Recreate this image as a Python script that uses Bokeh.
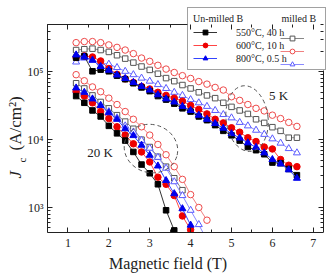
import math
from bokeh.plotting import figure
from bokeh.models import (LinearAxis, LogAxis, LogScale, FixedTicker, Range1d, Legend,
                          LegendItem, Label, CustomJSTickFormatter)
from bokeh.embed import file_html
from bokeh.resources import INLINE

# ---------------- data ----------------
FIELD = [1.2, 1.4, 1.6, 1.8, 2.0, 2.2, 2.4, 2.6, 2.8, 3.0, 3.2, 3.4, 3.6, 3.8,
         4.0, 4.2, 4.4, 4.6, 4.8, 5.0, 5.2, 5.4, 5.6, 5.8, 6.0, 6.2, 6.4, 6.6]

# 5 K, un-milled B (filled symbols)
u550_5K = [1.62e5, 1.70e5, 1.02e5, 1.08e5, 1.02e5, 8.8e4, 7.8e4, 6.8e4, 5.9e4, 5.2e4,
           4.4e4, 3.9e4, 3.4e4, 2.9e4, 2.6e4, 2.2e4, 1.94e4, 1.64e4, 1.35e4, 1.16e4,
           9.7e3, 7.8e3, 7.0e3, 6.1e3, 4.6e3, 4.5e3, 3.7e3, 3.0e3]
u600_5K = [1.63e5, 1.72e5, 1.66e5, 1.45e5, 1.12e5, 9.2e4, 7.9e4, 7.0e4, 6.1e4, 5.6e4,
           5.0e4, 4.5e4, 4.1e4, 3.7e4, 3.2e4, 2.8e4, 2.4e4, 2.0e4, 1.77e4, 1.5e4,
           1.29e4, 1.07e4, 9.4e3, 7.8e3, 7.3e3, 5.1e3, 4.2e3, 4.0e3]
u800_5K = [1.78e5, 1.66e5, 1.49e5, 1.20e5, 1.06e5, 9.0e4, 8.0e4, 7.0e4, 6.1e4, 5.4e4,
           4.6e4, 4.0e4, 3.6e4, 3.1e4, 2.7e4, 2.3e4, 2.0e4, 1.73e4, 1.48e4, 1.23e4,
           1.06e4, 9.0e3, 7.7e3, 6.4e3, 5.1e3, 4.4e3, 3.6e3, 2.7e3]
# 5 K, milled B (open symbols)
m550_5K = [2.1e5, 2.16e5, 2.2e5, 2.1e5, 1.97e5, 1.76e5, 1.57e5, 1.37e5, 1.2e5, 1.07e5,
           9.4e4, 8.1e4, 7.3e4, 6.4e4, 5.7e4, 5.0e4, 4.5e4, 4.1e4, 3.5e4, 3.05e4,
           2.7e4, 2.4e4, 2.0e4, 1.77e4, 1.53e4, 1.35e4, 1.07e4, 1.07e4]
m600_5K = [2.7e5, 2.8e5, 2.8e5, 2.7e5, 2.5e5, 2.3e5, 2.1e5, 1.86e5, 1.6e5, 1.43e5,
           1.25e5, 1.1e5, 9.8e4, 8.8e4, 8.0e4, 7.2e4, 6.6e4, 5.9e4, 5.4e4, 4.3e4,
           3.8e4, 3.3e4, 2.9e4, 2.66e4, 2.3e4, 2.05e4, 1.8e4, 1.57e4]
m800_5K = [1.4e5, 1.6e5, 1.49e5, 1.36e5, 1.3e5, 1.16e5, 1.02e5, 9.1e4, 8.1e4, 7.3e4,
           6.5e4, 5.7e4, 5.0e4, 4.5e4, 3.9e4, 3.5e4, 3.1e4, 2.7e4, 2.35e4, 2.1e4,
           1.8e4, 1.6e4, 1.38e4, 1.2e4, 1.03e4, 8.9e3, 7.4e3, 6.4e3]

# 20 K
F_u550_20K = [1.2, 1.4, 1.6, 1.8, 2.0, 2.2, 2.4, 2.6, 2.8, 3.0, 3.2, 3.4, 3.6]
u550_20K = [4.4e4, 3.5e4, 2.7e4, 2.2e4, 1.6e4, 1.24e4, 9.7e3, 6.6e3, 4.3e3, 3.2e3,
            2.2e3, 910, 460]
F_u600_20K = [1.2, 1.4, 1.6, 1.8, 2.0, 2.2, 2.4, 2.6, 2.8, 3.0, 3.2, 3.4, 3.6, 3.8, 4.0]
u600_20K = [5.2e4, 4.4e4, 3.5e4, 2.6e4, 2.05e4, 1.55e4, 1.17e4, 8.7e3, 6.6e3, 4.7e3,
            2.8e3, 2.2e3, 1.5e3, 750, 470]
F_u800_20K = [1.2, 1.4, 1.6, 1.8, 2.0, 2.2, 2.4, 2.6, 2.8, 3.0, 3.2, 3.4, 3.6, 3.8, 4.0]
u800_20K = [5.8e4, 5.0e4, 4.0e4, 3.2e4, 2.5e4, 2.0e4, 1.45e4, 1.15e4, 8.3e3, 5.9e3,
            4.1e3, 2.5e3, 1.6e3, 960, 550]
F_m550_20K = [1.2, 1.4, 1.6, 1.8, 2.0, 2.2, 2.4, 2.6, 2.8, 3.0, 3.2, 3.4, 3.6, 3.8]
m550_20K = [6.8e4, 5.7e4, 4.5e4, 3.6e4, 2.9e4, 2.3e4, 1.85e4, 1.45e4, 1.0e4, 7.8e3,
            5.6e3, 4.0e3, 2.7e3, 1.8e3]
F_m600_20K = [1.2, 1.4, 1.6, 1.8, 2.0, 2.2, 2.4, 2.6, 2.8, 3.0, 3.2, 3.4, 3.6, 3.8,
              4.0, 4.2, 4.4]
m600_20K = [9.1e4, 7.4e4, 6.0e4, 5.1e4, 4.1e4, 3.3e4, 2.6e4, 2.0e4, 1.55e4, 1.17e4,
            8.5e3, 6.0e3, 4.0e3, 2.6e3, 1.55e3, 1.0e3, 650]
F_m800_20K = [1.2, 1.4, 1.6, 1.8, 2.0, 2.2, 2.4, 2.6, 2.8, 3.0, 3.2, 3.4, 3.6, 3.8,
              4.0, 4.2, 4.4]
m800_20K = [5.3e4, 4.7e4, 3.9e4, 3.2e4, 2.6e4, 2.1e4, 1.6e4, 1.3e4, 9.8e3, 7.5e3,
            5.5e3, 3.8e3, 2.4e3, 1.5e3, 910, 560, 330]

LEGEND_HEADERS = ["Un-milled B", "milled B"]
LEGEND_LABELS = ["550\u00b0C, 40 h", "600\u00b0C, 10 h", "800\u00b0C, 0.5 h"]
X_TICKS = [1, 2, 3, 4, 5, 6, 7]
Y_TICKS = [1e3, 1e4, 1e5]
Y_TICK_LABELS = {1000: "10\u00b3", 10000: "10\u2074", 100000: "10\u2075"}

SERIF = "Liberation Serif"

# ---------------- layout constants (pixels) ----------------
W, H = 335, 278
BOTTOM_BORDER = 46
FRAME_H = H - BOTTOM_BORDER          # plotting area reaches the top/left/right edges
BOX_L, BOX_R, BOX_T = 47, 323, 24    # visible axes box (pixels)
LEG_L, LEG_B = 187, 70               # legend box left edge / bottom edge (pixels)
X_MIN, X_MAX = 0.5, 7.25             # visible x range of the box
Y_MIN, Y_MAX = 428, 5.0e5            # visible y range of the box

px_per_x = (BOX_R - BOX_L) / (X_MAX - X_MIN)
x_lo = X_MIN - BOX_L / px_per_x
x_hi = X_MAX + (W - BOX_R) / px_per_x
px_per_dec = (FRAME_H - BOX_T) / (math.log10(Y_MAX) - math.log10(Y_MIN))
y_hi = 10 ** (math.log10(Y_MAX) + BOX_T / px_per_dec)
# parts of the top / right box edges that the legend box hides
x_leg = X_MIN + (LEG_L - BOX_L) / px_per_x
y_leg = 10 ** (math.log10(Y_MAX) - (LEG_B - BOX_T) / px_per_dec)

p = figure(width=W, height=H, y_axis_type=None, x_axis_type=None,
           x_range=Range1d(x_lo, x_hi), y_range=Range1d(Y_MIN, y_hi),
           output_backend="svg", toolbar_location=None,
           min_border_left=0, min_border_right=0, min_border_top=0,
           min_border_bottom=BOTTOM_BORDER)
p.y_scale = LogScale()
p.grid.visible = False
p.outline_line_color = None
p.background_fill_color = "white"
p.border_fill_color = "white"

x_minor = [0.5, 1.5, 2.5, 3.5, 4.5, 5.5, 6.5]
y_minor = [m * 10 ** e for e in (2, 3, 4, 5) for m in range(2, 10)
           if Y_MIN <= m * 10 ** e <= Y_MAX]
xt = FixedTicker(ticks=X_TICKS, minor_ticks=x_minor)
yt = FixedTicker(ticks=Y_TICKS, minor_ticks=y_minor)
blank = CustomJSTickFormatter(code="return ''")


def style_axis(ax, ticker):
    ax.ticker = ticker
    ax.major_tick_in = 5
    ax.major_tick_out = 0
    ax.minor_tick_in = 3
    ax.minor_tick_out = 0
    ax.axis_line_color = "#222222"
    ax.major_tick_line_color = "#222222"
    ax.minor_tick_line_color = "#222222"
    ax.major_label_text_font = SERIF
    ax.major_label_text_font_size = "12px"
    ax.major_label_text_color = "#222222"
    ax.major_label_standoff = 6


bottom = LinearAxis(bounds=(X_MIN, X_MAX))
style_axis(bottom, xt)
bottom.axis_label = "Magnetic field (T)"
bottom.axis_label_text_font = SERIF
bottom.axis_label_text_font_size = "16px"
bottom.axis_label_text_font_style = "normal"
bottom.axis_label_text_color = "#222222"
bottom.axis_label_standoff = 5
p.add_layout(bottom, "below")

left = LogAxis(bounds=(Y_MIN, Y_MAX), fixed_location=X_MIN)
style_axis(left, yt)
left.major_label_overrides = Y_TICK_LABELS
left.major_label_standoff = 4
p.add_layout(left, "left")

top = LinearAxis(bounds=(X_MIN, x_leg), fixed_location=Y_MAX, formatter=blank)
style_axis(top, xt)
p.add_layout(top, "above")

right = LogAxis(bounds=(Y_MIN, y_leg), fixed_location=X_MAX, formatter=blank)
style_axis(right, yt)
p.add_layout(right, "right")

# ---------------- series ----------------
BLACK_L, BLACK_M = "#333333", "#000000"
RED_L, RED_M = "#ff4444", "#ee0000"
BLUE_L, BLUE_M = "#3344ff", "#0000ee"
GRAY_L, GRAY_M = "#888888", "#555555"
PINK_L, PINK_M = "#f08080", "#ee4a4a"
LBLUE_L, LBLUE_M = "#8a8aff", "#5a5aff"


def series(xs, ys, lc, mc, marker, filled, size):
    ln = p.line(xs, ys, line_color=lc, line_width=1)
    sc = p.scatter(xs, ys, marker=marker, size=size, line_color=mc,
                   fill_color=mc if filled else "white", line_width=1)
    return ln, sc


# 5 K
a1 = series(FIELD, m600_5K, PINK_L, PINK_M, "circle", False, 6.5)
a2 = series(FIELD, m550_5K, GRAY_L, GRAY_M, "square", False, 5.5)
a3 = series(FIELD, m800_5K, LBLUE_L, LBLUE_M, "triangle", False, 7)
a4 = series(FIELD, u600_5K, RED_L, RED_M, "circle", True, 6.5)
a5 = series(FIELD, u550_5K, BLACK_L, BLACK_M, "square", True, 5.5)
a6 = series(FIELD, u800_5K, BLUE_L, BLUE_M, "triangle", True, 7)
# 20 K
series(F_m600_20K, m600_20K, PINK_L, PINK_M, "circle", False, 6.5)
series(F_m550_20K, m550_20K, GRAY_L, GRAY_M, "square", False, 5.5)
series(F_m800_20K, m800_20K, LBLUE_L, LBLUE_M, "triangle", False, 7)
series(F_u600_20K, u600_20K, RED_L, RED_M, "circle", True, 6.5)
series(F_u550_20K, u550_20K, BLACK_L, BLACK_M, "square", True, 5.5)
series(F_u800_20K, u800_20K, BLUE_L, BLUE_M, "triangle", True, 7)

# dashed ellipses marking the two temperature groups
p.ellipse(x=[3.03], y=[7.4e3], width=54, height=48, angle=-0.3,
          width_units="screen", height_units="screen",
          fill_color=None, line_color="#555555", line_dash="4 3", line_width=1)
p.ellipse(x=[5.38], y=[2.05e4], width=42, height=66, angle=0.12,
          width_units="screen", height_units="screen",
          fill_color=None, line_color="#555555", line_dash="4 3", line_width=1)

p.add_layout(Label(x=1.47, y=6.4e3, text="20 K", text_font=SERIF,
                   text_font_size="13px", text_color="#222222",
                   text_baseline="middle"))
p.add_layout(Label(x=5.92, y=4.5e4, text="5 K", text_font=SERIF,
                   text_font_size="13px", text_color="#222222",
                   text_baseline="middle"))

# ---------------- y axis title (J_c with subscript) ----------------
p.add_layout(Label(x=15, y=54, x_units="screen", y_units="screen", angle=math.pi / 2,
                   text="J", text_font=SERIF, text_font_style="italic",
                   text_font_size="17px", text_color="#222222",
                   text_baseline="middle", text_align="left"))
p.add_layout(Label(x=21, y=70, x_units="screen", y_units="screen", angle=math.pi / 2,
                   text="c", text_font=SERIF, text_font_size="11px",
                   text_color="#222222", text_baseline="middle", text_align="left"))
p.add_layout(Label(x=15, y=82, x_units="screen", y_units="screen", angle=math.pi / 2,
                   text="(A/cm\u00b2)", text_font=SERIF, text_font_size="17px",
                   text_color="#222222", text_baseline="middle", text_align="left"))

# ---------------- legend (two columns) ----------------
common = dict(title_text_font=SERIF, title_text_font_size="10px",
              title_text_font_style="normal", title_text_color="#222222",
              title_standoff=2,
              label_text_font=SERIF, label_text_font_size="10px",
              label_text_color="#222222",
              glyph_width=24, glyph_height=12, label_height=12, spacing=1,
              padding=5, margin=0, background_fill_alpha=0.0)
legA = Legend(items=[LegendItem(label=LEGEND_LABELS[0], renderers=list(a5)),
                     LegendItem(label=LEGEND_LABELS[1], renderers=list(a4)),
                     LegendItem(label=LEGEND_LABELS[2], renderers=list(a6))],
              title=LEGEND_HEADERS[0], location=(LEG_L, FRAME_H - LEG_B),
              label_standoff=19, label_width=84,
              border_line_color="#444444", border_line_width=1, **common)
legB = Legend(items=[LegendItem(label=" ", renderers=list(a2)),
                     LegendItem(label=" ", renderers=list(a1)),
                     LegendItem(label=" ", renderers=list(a3))],
              title=" ", location=(280, FRAME_H - LEG_B),
              label_standoff=0, label_width=0,
              border_line_color=None, **common)
p.add_layout(legA)
p.add_layout(legB)

# right-hand column header of the legend
p.add_layout(Label(x=281, y=FRAME_H - 18, x_units="screen", y_units="screen",
                   text=LEGEND_HEADERS[1], text_font=SERIF, text_font_size="10px",
                   text_color="#222222", text_baseline="middle", text_align="left"))

open("out.html", "w").write(file_html(p, INLINE))
